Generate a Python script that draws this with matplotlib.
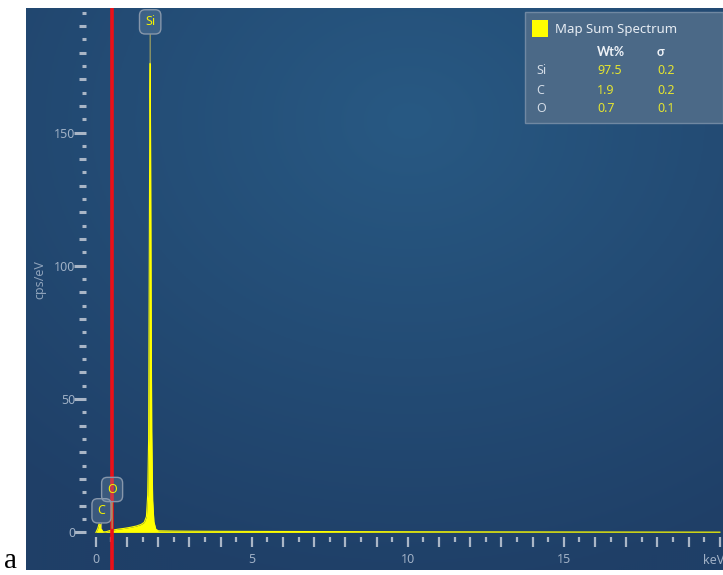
import numpy as np
import matplotlib.pyplot as plt
from matplotlib.ticker import FixedLocator, FuncFormatter
from matplotlib.patches import Rectangle

# EDS spectrum (keV, cps/eV)
energy = [0.0, 0.06, 0.1, 0.14, 0.18, 0.22, 0.28, 0.34, 0.42, 0.5, 0.56, 0.7,
          0.9, 1.1, 1.3, 1.45, 1.55, 1.62, 1.66, 1.69, 1.71, 1.73, 1.74, 1.75,
          1.77, 1.79, 1.82, 1.86, 1.92, 2.0, 2.5, 3.0, 4.0, 6.0, 8.0, 10.0,
          13.0, 16.0, 20.0]
cps = [0.0, 1.5, 3.2, 3.0, 1.2, 0.3, 0.2, 0.3, 0.6, 0.8, 0.9, 1.2,
       1.5, 1.9, 2.4, 3.0, 3.8, 6.0, 14.0, 35.0, 100.0, 165.0, 176.0, 155.0,
       90.0, 38.0, 12.0, 4.0, 1.2, 0.6, 0.5, 0.45, 0.4, 0.35, 0.3, 0.25,
       0.2, 0.15, 0.1]

marker_kev = 0.52

# quantification table
elements = ['Si', 'C', 'O']
wt_pct = ['97.5', '1.9', '0.7']
sigma = ['0.2', '0.2', '0.1']

# peak tags
peak_names = ['Si', 'C', 'O']
peak_kev = [1.74, 0.18, 0.52]
peak_top = [176.0, 1.5, 1.5]
tag_height = [191.5, 8.1, 16.1]

W, H = 723, 575
fig = plt.figure(figsize=(W / 100, H / 100), dpi=100, facecolor='white')

def fx(x):
    return x / W

def fy(y):
    return 1 - y / H

rect = [fx(26), fy(570), 697 / W, 562 / H]

# dark blue panel with a soft radial glow
bg = fig.add_axes(rect)
bg.axis('off')
ny, nx = 281, 349
yy, xx = np.mgrid[0:1:ny * 1j, 0:1:nx * 1j]
d = np.sqrt(((xx - 0.55) / 0.85) ** 2 + ((yy - 0.2) / 0.85) ** 2)
d = np.clip(d, 0, 1)
c0 = np.array([40, 89, 131]) / 255
c1 = np.array([31, 63, 103]) / 255
img = c0 + (c1 - c0) * d[..., None]
bg.imshow(img, aspect='auto', extent=[0, 1, 0, 1], origin='upper')

ax = fig.add_axes(rect, facecolor='none')
ax.set_xlim(-2.24, 20.1)
ax.set_ylim(-14.1, 196.7)

tick_c = '#aab6c6'
lab_c = '#9fb0c5'

for s in ax.spines.values():
    s.set_visible(False)
ax.spines['left'].set_position(('axes', 0.0868))
ax.spines['bottom'].set_position(('axes', 0.0593))

# y ticks: 5 / 10 / 50 steps with three lengths
ax.yaxis.set_major_locator(FixedLocator(np.arange(0, 196, 10)))
ax.yaxis.set_minor_locator(FixedLocator(np.arange(5, 196, 10)))
ax.yaxis.set_major_formatter(FuncFormatter(lambda v, p: '%d' % v if v % 50 == 0 else ''))
ax.xaxis.set_major_locator(FixedLocator(np.arange(0, 20.1, 1)))
ax.xaxis.set_minor_locator(FixedLocator(np.arange(0.5, 20, 1)))
ax.xaxis.set_major_formatter(FuncFormatter(lambda v, p: '%d' % v if v % 5 == 0 and v < 20 else ''))

ax.tick_params(axis='y', which='major', length=5.0, width=2.2, color=tick_c,
               labelcolor=lab_c, labelsize=9, pad=3)
ax.tick_params(axis='y', which='minor', length=3.2, width=2.2, color=tick_c)
ax.tick_params(axis='x', which='major', length=7.5, width=1.6, color=tick_c,
               labelcolor=lab_c, labelsize=9, pad=4)
ax.tick_params(axis='x', which='minor', length=3.6, width=1.6, color=tick_c)

for loc, t in zip(ax.yaxis.get_majorticklocs(), ax.yaxis.get_major_ticks()):
    if loc % 50 == 0:
        t.tick1line.set_markersize(8.6)

for lab in ax.get_xticklabels() + ax.get_yticklabels():
    lab.set_family('Noto Sans')

# spectrum
ax.fill_between(energy, cps, 0, color='#ffff00', lw=0, zorder=2)
ax.plot(energy, cps, color='#ffff00', lw=0.8, zorder=2)
ax.axvline(marker_kev, color='#ec1018', lw=2.6, zorder=3)

for name, xk, top, ht in zip(peak_names, peak_kev, peak_top, tag_height):
    ax.annotate(name, xy=(xk, top), xytext=(xk, ht), ha='center', va='center',
                color='#f2f200', fontsize=9, family='Noto Sans', zorder=5,
                bbox=dict(boxstyle='round,pad=0.45', fc=(0.55, 0.65, 0.75, 0.25),
                          ec='#8797ab', lw=1),
                arrowprops=dict(arrowstyle='-', color='#a8a860', lw=0.8,
                                shrinkA=0, shrinkB=0))

fig.text(fx(40), fy(280), 'cps/eV', rotation=90, ha='center', va='center',
         color='#8ea2ba', fontsize=9, family='Noto Sans')
fig.text(fx(703), fy(560), 'keV', ha='left', va='center',
         color=lab_c, fontsize=9, family='Noto Sans')

# quantification box
fig.patches.append(Rectangle((fx(525), fy(123)), 198 / W, 111 / H,
                             transform=fig.transFigure, fc='#4b6987',
                             ec='#7088a2', lw=1, zorder=10))
fig.patches.append(Rectangle((fx(532), fy(37)), 16 / W, 17 / H,
                             transform=fig.transFigure, fc='#ffff00',
                             ec='none', zorder=11))
fig.text(fx(555), fy(29), 'Map Sum Spectrum', ha='left', va='center',
         color='#e6ecf3', fontsize=9.5, family='Noto Sans', zorder=12)
fig.text(fx(597), fy(52), 'Wt%', ha='left', va='center', color='#eef2f7',
         fontsize=9, weight='bold', family='Lato', zorder=12)
fig.text(fx(657), fy(52), 'σ', ha='left', va='center', color='#eef2f7',
         fontsize=9, weight='bold', family=['Lato', 'DejaVu Sans'], zorder=12)
row_y = [71, 90, 108]
for el, w, s, y in zip(elements, wt_pct, sigma, row_y):
    fig.text(fx(536), fy(y), el, ha='left', va='center', color='#d2dbe6',
             fontsize=9, family='Noto Sans', zorder=12)
    fig.text(fx(597), fy(y), w, ha='left', va='center', color='#e4e430',
             fontsize=9, family='Noto Sans', zorder=12)
    fig.text(fx(657), fy(y), s, ha='left', va='center', color='#e4e430',
             fontsize=9, family='Noto Sans', zorder=12)

fig.text(fx(4), fy(568), 'a', ha='left', va='baseline', color='black',
         fontsize=21, family='Liberation Serif')

fig.savefig('out.png', dpi=100, facecolor='white')
